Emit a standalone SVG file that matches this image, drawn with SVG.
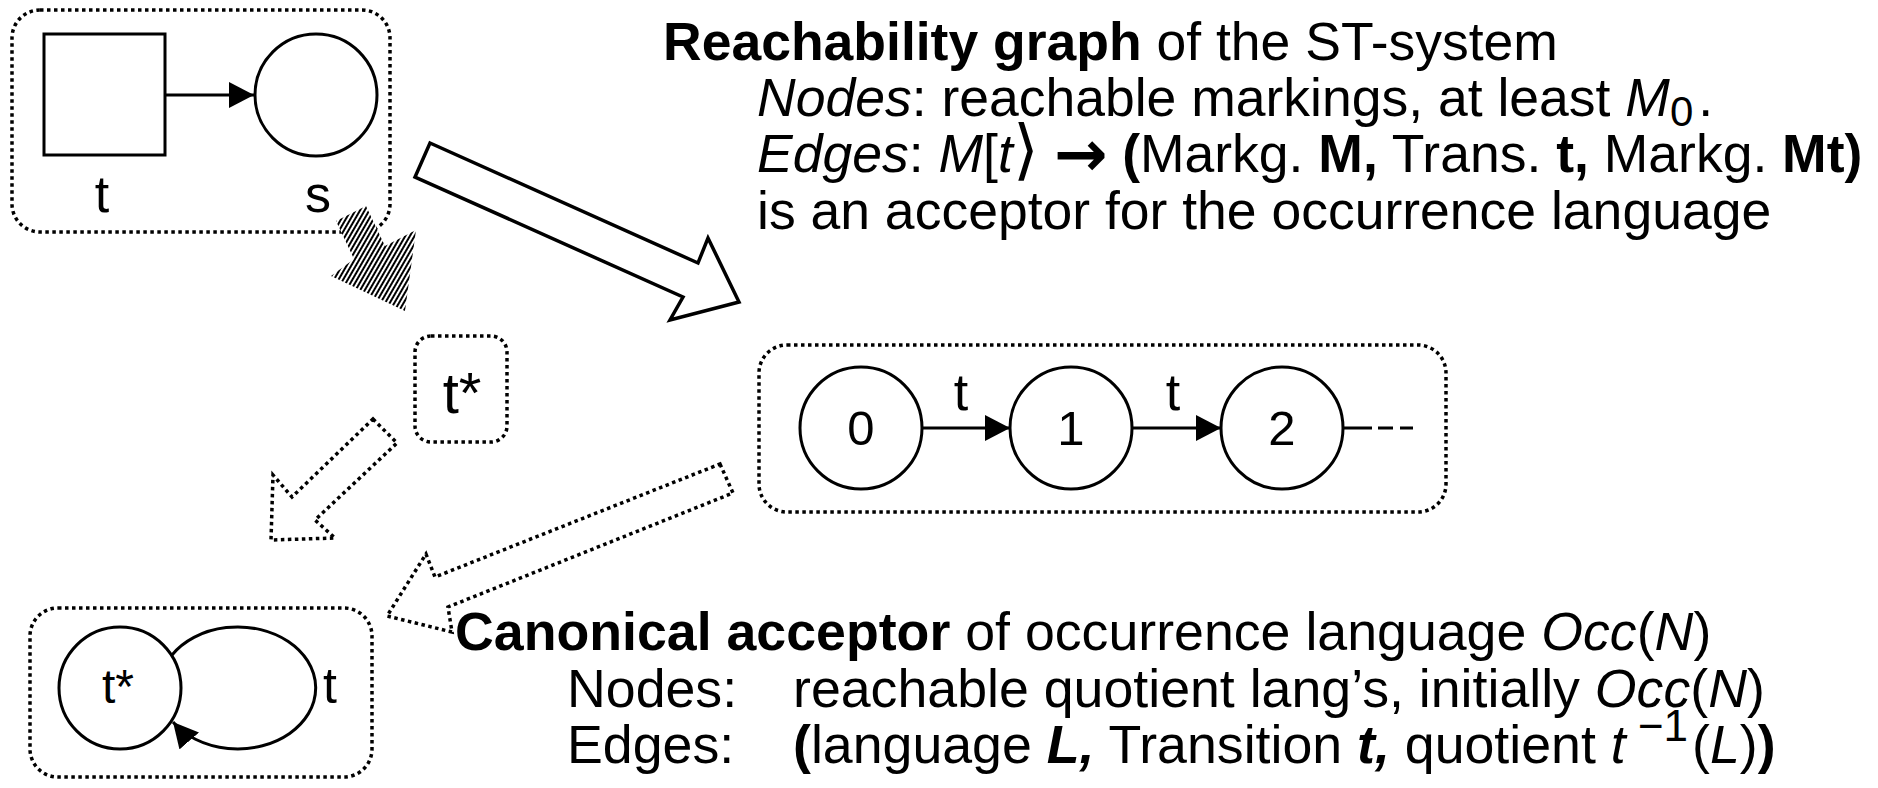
<svg xmlns="http://www.w3.org/2000/svg" width="1878" height="788" viewBox="0 0 1878 788">
<style>
.solid{fill:none;stroke:#000;stroke-width:3}
.node{fill:#fff;stroke:#000;stroke-width:3}
.dot{fill:none;stroke:#000;stroke-width:3.5;stroke-dasharray:3.5 3.5}
.big{fill:#fff;stroke:#000;stroke-width:3.5;stroke-linejoin:miter}
text{font-family:"Liberation Sans",Arial,sans-serif;fill:#000}
.lbl{font-size:52px;text-anchor:middle}
.num{font-size:49px;text-anchor:middle}
.txt{font-size:53.5px}
.txt2{font-size:53.7px}
.b{font-weight:bold}
.i{font-style:italic}
</style>
<defs>
<marker id="ah" markerUnits="userSpaceOnUse" viewBox="0 0 25 26" markerWidth="25" markerHeight="26" refX="25" refY="13" orient="auto">
<path d="M0,0 L25,13 L0,26 Z" fill="#000"/>
</marker>
<pattern id="hatch" patternUnits="userSpaceOnUse" width="4" height="8" patternTransform="rotate(30)">
<rect width="4" height="8" fill="#fff"/>
<rect width="2" height="8" fill="#000"/>
</pattern>
</defs>

<g id="petri-net">
<rect class="dot" x="12" y="10" width="378" height="222" rx="28"/>
<rect class="node" x="44" y="34" width="121" height="121"/>
<circle class="node" cx="316" cy="95" r="61"/>
<text class="lbl" x="102" y="212">t</text>
<text class="lbl" x="318" y="212">s</text>
</g>

<g id="t-star">
<rect class="dot" x="415" y="336" width="92" height="106" rx="16"/>
<text x="462" y="413" style="font-size:58px;text-anchor:middle">t*</text>
</g>

<g id="reachability-graph">
<rect class="dot" x="759" y="345" width="687" height="167" rx="28"/>
<circle class="node" cx="861" cy="428" r="61"/>
<circle class="node" cx="1071" cy="428" r="61"/>
<circle class="node" cx="1282" cy="428" r="61"/>
<text class="num" x="861" y="445">0</text>
<text class="num" x="1071" y="445">1</text>
<text class="num" x="1282" y="445">2</text>
<text class="lbl" x="961" y="410">t</text>
<text class="lbl" x="1173" y="410">t</text>
</g>

<g id="canonical-acceptor">
<rect class="dot" x="30" y="608" width="342" height="169" rx="28"/>
<circle class="node" cx="120" cy="688" r="61"/>
<text x="118" y="703" style="font-size:48px;text-anchor:middle">t*</text>
<text x="330" y="703" style="font-size:50px;text-anchor:middle">t</text>
</g>

<g id="connectors">
<line class="solid" x1="166" y1="95" x2="254" y2="95" marker-end="url(#ah)"/>
<line class="solid" x1="922" y1="428" x2="1010" y2="428" marker-end="url(#ah)"/>
<line class="solid" x1="1132" y1="428" x2="1221" y2="428" marker-end="url(#ah)"/>
<path class="solid" d="M1343,428 H1372 M1378,428 H1393 M1400,428 H1413"/>
<path class="solid" d="M172,655 A78,61 0 1 1 173,722" marker-end="url(#ah)"/>
<polygon points="336,221 366,206 385,246 416,230 405,311 331,276 354,259" fill="url(#hatch)"/>
<polygon class="big" points="430,143 698,263 708,238 739,302 670,320 683,297 415,177"/>
<polygon class="dot" points="373,419 397,443 315,520 335,538 271,540 273,475 292,497"/>
<polygon class="dot" points="720,464 733,493 448,607 452,632 387,616 426,554 435,577"/>
</g>

<g id="text-reachability">
<text class="txt" x="663" y="60"><tspan class="b">Reachability graph</tspan> of the ST-system</text>
<text class="txt" x="757" y="116"><tspan class="i">Nodes</tspan>: reachable markings, at least <tspan class="i">M</tspan><tspan dy="10" style="font-size:42px">0</tspan><tspan dy="-10" dx="5">.</tspan></text>
<text class="txt" x="757" y="172"><tspan class="i">Edges</tspan>: <tspan class="i">M</tspan>[<tspan class="i">t</tspan><tspan style="font-family:'DejaVu Sans',sans-serif;font-weight:200;font-size:66px">⟩</tspan> <tspan dy="4" style="font-family:'DejaVu Sans',sans-serif;font-weight:bold;font-size:64px">→</tspan><tspan dy="-4"> </tspan><tspan class="b">(</tspan>Markg. <tspan class="b">M,</tspan> Trans. <tspan class="b">t,</tspan> Markg. <tspan class="b">Mt)</tspan></text>
<text class="txt" x="757" y="229">is an acceptor for the occurrence language</text>
</g>

<g id="text-canonical">
<text class="txt2" x="455" y="650"><tspan class="b">Canonical acceptor</tspan> of occurrence language <tspan class="i">Occ</tspan>(<tspan class="i">N</tspan>)</text>
<text class="txt2" x="567" y="707">Nodes:<tspan x="793">reachable quotient lang’s, initially </tspan><tspan class="i">Occ</tspan>(<tspan class="i">N</tspan>)</text>
<text class="txt2" x="567" y="763">Edges:<tspan x="793" class="b">(</tspan>language <tspan class="b i">L,</tspan> Transition <tspan class="b i">t,</tspan> quotient <tspan class="i">t</tspan><tspan dy="-22" style="font-size:44px"> −1</tspan><tspan dy="22" dx="4">(</tspan><tspan class="i">L</tspan>)<tspan class="b">)</tspan></text>
</g>
</svg>
